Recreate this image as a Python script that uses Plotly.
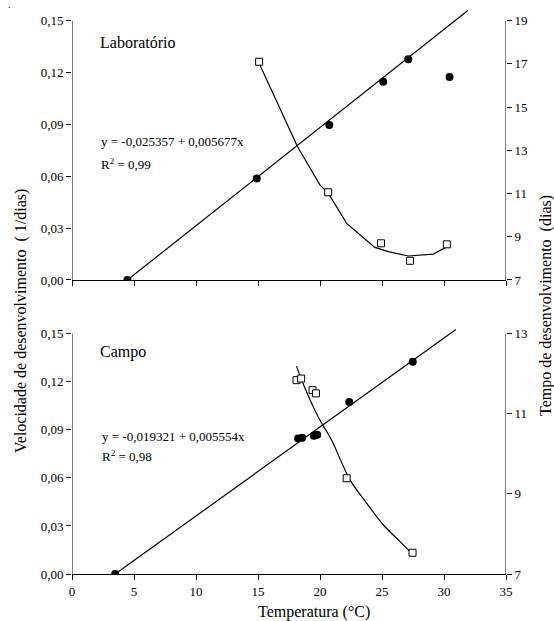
import plotly.graph_objects as go

# ---------------- data ----------------
# Laboratório panel
lab_vel_temp = [4.47, 14.9, 20.75, 25.1, 27.12, 30.45]
lab_vel = [0.0, 0.0587, 0.0896, 0.1147, 0.1277, 0.1174]
lab_tempo_temp = [15.09, 20.66, 24.92, 27.26, 30.23]
lab_tempo = [17.10, 11.06, 8.70, 7.89, 8.65]
lab_curve_temp = [15.09, 16.62, 18.19, 19.99, 20.66, 22.15, 24.43, 25.51, 27.12, 29.14, 30.23]
lab_curve_tempo = [17.03, 15.14, 13.17, 11.40, 11.02, 9.62, 8.51, 8.31, 8.11, 8.20, 8.54]
lab_a, lab_b = -0.025357, 0.005677
lab_line_temp = [4.467, 31.92]

# Campo panel
campo_vel_temp = [3.48, 18.24, 18.56, 19.51, 19.77, 22.36, 27.48]
campo_vel = [0.0, 0.0846, 0.0851, 0.0863, 0.0870, 0.1074, 0.1325]
campo_tempo_temp = [18.11, 18.48, 19.40, 19.67, 22.15, 27.46]
campo_tempo = [11.84, 11.88, 11.59, 11.51, 9.39, 7.53]
campo_curve_temp = [18.11, 18.64, 19.86, 20.94, 22.42, 23.76, 25.10, 26.45, 27.26]
campo_curve_tempo = [12.19, 11.75, 10.92, 10.34, 9.35, 8.77, 8.23, 7.81, 7.56]
campo_a, campo_b = -0.019321, 0.005554
campo_line_temp = [3.479, 30.96]

vel_ticks = [0, 0.03, 0.06, 0.09, 0.12, 0.15]
lab_tempo_ticks = [7, 9, 11, 13, 15, 17, 19]
campo_tempo_ticks = [7, 9, 11, 13]
temp_ticks = [0, 5, 10, 15, 20, 25, 30, 35]

# ---------------- layout geometry ----------------
W, H = 554, 621
ML, MR, MT, MB = 72, 48, 0, 47
PW = W - ML - MR
PH = H - MT - MB


def py(p):
    return (H - MB - p) / PH


def px(p):
    return (p - ML) / PW


top_y0, top_y15 = 280.0, 20.7
bot_y0, bot_y15 = 574.0, 333.7
top_max = 0.157
bot_max = 0.155
top_dom = [py(top_y0), py(top_y0 - top_max / 0.15 * (top_y0 - top_y15))]
bot_dom = [py(bot_y0), py(bot_y0 - bot_max / 0.15 * (bot_y0 - bot_y15))]

FONT = "Liberation Serif, Times New Roman, serif"
BLK = "black"

fig = go.Figure()

lab_line_vel = [lab_a + lab_b * t for t in lab_line_temp]
campo_line_vel = [campo_a + campo_b * t for t in campo_line_temp]

# top panel
fig.add_trace(go.Scatter(x=lab_line_temp, y=lab_line_vel, mode="lines",
                         line=dict(color=BLK, width=1.2), xaxis="x", yaxis="y"))
fig.add_trace(go.Scatter(x=lab_curve_temp, y=lab_curve_tempo, mode="lines",
                         line=dict(color=BLK, width=1.2), xaxis="x", yaxis="y2"))
fig.add_trace(go.Scatter(x=lab_tempo_temp, y=lab_tempo, mode="markers",
                         marker=dict(symbol="square", size=7, color="white",
                                     line=dict(color=BLK, width=1)),
                         xaxis="x", yaxis="y2"))
fig.add_trace(go.Scatter(x=lab_vel_temp, y=lab_vel, mode="markers",
                         marker=dict(symbol="circle", size=8, color=BLK),
                         xaxis="x", yaxis="y"))

# bottom panel
fig.add_trace(go.Scatter(x=campo_line_temp, y=campo_line_vel, mode="lines",
                         line=dict(color=BLK, width=1.2), xaxis="x2", yaxis="y3"))
fig.add_trace(go.Scatter(x=campo_curve_temp, y=campo_curve_tempo, mode="lines",
                         line=dict(color=BLK, width=1.2, shape="spline"),
                         xaxis="x2", yaxis="y4"))
fig.add_trace(go.Scatter(x=campo_tempo_temp, y=campo_tempo, mode="markers",
                         marker=dict(symbol="square", size=7, color="white",
                                     line=dict(color=BLK, width=1)),
                         xaxis="x2", yaxis="y4"))
fig.add_trace(go.Scatter(x=campo_vel_temp, y=campo_vel, mode="markers",
                         marker=dict(symbol="circle", size=8, color=BLK),
                         xaxis="x2", yaxis="y3"))

tickfont = dict(family=FONT, size=13, color=BLK)
common_x = dict(range=[0, 35], tickvals=temp_ticks, ticks="outside", ticklen=5,
                tickcolor=BLK, showline=True, linecolor=BLK, linewidth=1,
                showgrid=False, zeroline=False, tickfont=tickfont, domain=[0, 1])
common_y = dict(ticks="outside", ticklen=5, tickcolor=BLK, showline=False,
                showgrid=False, zeroline=False, tickfont=tickfont)

fig.update_layout(
    width=W, height=H,
    margin=dict(l=ML, r=MR, t=MT, b=MB),
    paper_bgcolor="white", plot_bgcolor="white",
    showlegend=False,
    separators=",.",
    font=dict(family=FONT, color=BLK),
    xaxis=dict(common_x, anchor="y", showticklabels=False),
    yaxis=dict(common_y, domain=top_dom, range=[0, top_max], tickvals=vel_ticks,
               tickformat=".2f", anchor="x"),
    yaxis2=dict(common_y, overlaying="y", side="right", anchor="x",
                range=[7, 7 + 12 * top_max / 0.15], tickvals=lab_tempo_ticks),
    xaxis2=dict(common_x, anchor="y3", showticklabels=True),
    yaxis3=dict(common_y, domain=bot_dom, range=[0, bot_max], tickvals=vel_ticks,
                tickformat=".2f", anchor="x2"),
    yaxis4=dict(common_y, overlaying="y3", side="right", anchor="x2",
                range=[7, 7 + 6 * bot_max / 0.15], tickvals=campo_tempo_ticks),
)

# vertical axis lines (stop at the top tick)
for xr, yr in (("x", "y"), ("x2", "y3")):
    for xv in (0, 35):
        fig.add_shape(type="line", xref=xr, yref=yr, x0=xv, x1=xv, y0=0, y1=0.15,
                      line=dict(color=BLK, width=1), layer="above")


def ann(text, x, y, size, xanchor="left", angle=0):
    fig.add_annotation(text=text, xref="paper", yref="paper", x=px(x), y=py(y),
                       xanchor=xanchor, yanchor="middle", showarrow=False,
                       textangle=angle, font=dict(family=FONT, size=size, color=BLK))


ann("Laboratório", 98, 42.7, 16)
ann("y = -0,025357 + 0,005677x", 99, 141.7, 13)
ann("R<sup>2</sup> = 0,99", 99, 163.5, 13)
ann("Campo", 98, 351.7, 16)
ann("y = -0,019321 + 0,005554x", 99.5, 436.7, 13)
ann("R<sup>2</sup> = 0,98", 99.5, 455.5, 13)
ann("Velocidade de desenvolvimento  ( 1/dias)", 21, 321, 16, xanchor="center", angle=-90)
ann("Tempo de desenvolvimento  (dias)", 546, 306, 16, xanchor="center", angle=-90)
ann("Temperatura (°C)", 314, 612, 16, xanchor="center")
ann(".", 6, 4, 10)

fig.write_html("out.html", config={"displayModeBar": False},
               post_script="document.body.style.margin='0';")
